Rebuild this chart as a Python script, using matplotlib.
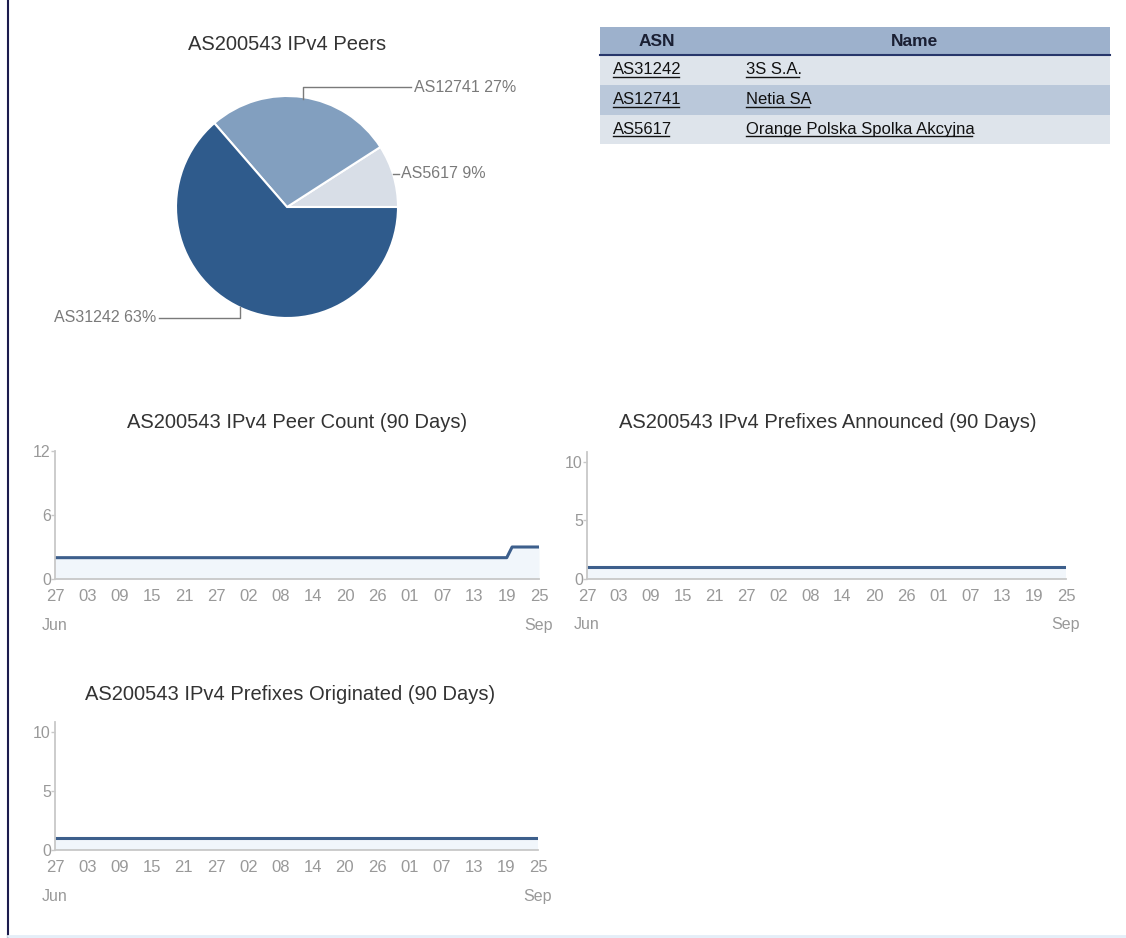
import matplotlib
matplotlib.use("Agg")
from matplotlib import pyplot as plt
import matplotlib.dates as mdates
from datetime import datetime, timedelta

plt.rcParams['font.family'] = ['Liberation Sans', 'DejaVu Sans']

# pie data (peer share)
peer_asns = ["AS5617", "AS12741", "AS31242"]
peer_share = [1, 3, 7]
peer_labels = ["AS5617 9%", "AS12741 27%", "AS31242 63%"]
pie_colors = ["#d8dee7", "#829fbf", "#2f5b8c"]

# table
table_asn = ["AS31242", "AS12741", "AS5617"]
table_name = ["3S S.A.", "Netia SA", "Orange Polska Spolka Akcyjna"]

# 90 day series (change points)
start = datetime(2014, 6, 27)
end = datetime(2014, 9, 25)
peer_dates = [start, datetime(2014, 9, 19), datetime(2014, 9, 20), end]
peer_counts = [2, 2, 3, 3]
announced_dates = [start, end]
announced = [1, 1]
originated_dates = [start, end]
originated = [1, 1]

W, H = 1126, 938
fig = plt.figure(figsize=(W / 100, H / 100), dpi=100)

# background axes in pixel coords
bg = fig.add_axes([0, 0, 1, 1])
bg.set_xlim(0, W)
bg.set_ylim(H, 0)
bg.axis('off')
bg.plot([8, 8], [0, H], color="#1c1c4e", lw=1.5)
bg.plot([8, W], [936, 936], color="#e4eef8", lw=2)

# ---- table ----
tx0, tx1 = 600, 1110
row_edges = [27, 55, 85, 115, 144]
row_cols = ["#9db1cc", "#dee4eb", "#bac8da", "#dee4eb"]
for i in range(4):
    bg.add_patch(plt.Rectangle((tx0, row_edges[i]), tx1 - tx0, row_edges[i + 1] - row_edges[i],
                               facecolor=row_cols[i], edgecolor="none"))
bg.plot([tx0, tx1], [55, 55], color="#27366a", lw=1.5)
bg.text(657, 41, "ASN", ha="center", va="center", fontsize=12.5, fontweight="bold", color="#1a1f33")
bg.text(914, 41, "Name", ha="center", va="center", fontsize=12.5, fontweight="bold", color="#1a1f33")
cell_texts = []
for i in range(len(table_asn)):
    yc = (row_edges[i + 1] + row_edges[i + 2]) / 2
    cell_texts.append(bg.text(613, yc, table_asn[i], ha="left", va="center", fontsize=12, color="#111111"))
    cell_texts.append(bg.text(746, yc, table_name[i], ha="left", va="center", fontsize=12, color="#111111"))

# ---- pie ----
cx, cy, R = 287, 207, 111
half = 135
pax = fig.add_axes([(cx - half) / W, 1 - (cy + half) / H, 2 * half / W, 2 * half / H])
pax.pie(peer_share, colors=pie_colors, startangle=0, counterclock=True, radius=R,
        center=(0, 0), frame=True,
        wedgeprops=dict(edgecolor="white", linewidth=1.5))
pax.set_xlim(-half, half)
pax.set_ylim(-half, half)
pax.axis('off')
lc = "#7a7a7a"
# AS12741
pax.plot([16, 16, 124], [108, 120, 120], color=lc, lw=1, clip_on=False)
pax.text(127, 120, peer_labels[1], ha="left", va="center", fontsize=11.5, color=lc, clip_on=False)
# AS5617
pax.plot([106, 112], [33, 33], color=lc, lw=1, clip_on=False)
pax.text(114, 33, peer_labels[0], ha="left", va="center", fontsize=11.5, color=lc, clip_on=False)
# AS31242
pax.plot([-47, -47, -128], [-100, -111, -111], color=lc, lw=1, clip_on=False)
pax.text(-131, -111, peer_labels[2], ha="right", va="center", fontsize=11.5, color=lc, clip_on=False)
bg.text(cx, 44, "AS200543 IPv4 Peers", ha="center", va="center", fontsize=14.5, color="#333333")

# ---- line charts ----
line_col = "#3d5f8c"
tick_days = [start + timedelta(days=6 * k) for k in range(16)]


def line_chart(px0, px1, ptop, pbot, ymax, yticks, dates, vals, title, title_x, title_y):
    ax = fig.add_axes([px0 / W, 1 - pbot / H, (px1 - px0) / W, (pbot - ptop) / H])
    ax.fill_between(dates, 0, vals, color="#f1f6fb", lw=0)
    ax.plot(dates, vals, color=line_col, lw=2.2, solid_capstyle="butt")
    ax.set_xlim(start, end)
    ax.set_ylim(0, ymax)
    ax.set_yticks(yticks)
    ax.set_xticks(tick_days)
    ax.xaxis.set_major_formatter(mdates.DateFormatter("%d"))
    for s in ["top", "right"]:
        ax.spines[s].set_visible(False)
    for s in ["left", "bottom"]:
        ax.spines[s].set_color("#c8c8c8")
        ax.spines[s].set_linewidth(1.3)
    ax.tick_params(axis="y", length=3, width=1, color="#c8c8c8", labelsize=11.5, labelcolor="#999999", pad=0)
    ax.tick_params(axis="x", length=0, labelsize=12, labelcolor="#999999", pad=7)
    ax.set_facecolor("none")
    ax.text(start, -0.36, "Jun", transform=ax.get_xaxis_transform(), ha="center", va="center",
            fontsize=11.5, color="#999999")
    ax.text(end, -0.36, "Sep", transform=ax.get_xaxis_transform(), ha="center", va="center",
            fontsize=11.5, color="#999999")
    bg.text(title_x, title_y, title, ha="center", va="center", fontsize=14.5, color="#333333")
    return ax


line_chart(55, 539, 451, 579, 12, [0, 6, 12], peer_dates, peer_counts,
           "AS200543 IPv4 Peer Count (90 Days)", 297, 423)
line_chart(587, 1066, 452, 579, 10.85, [0, 5, 10], announced_dates, announced,
           "AS200543 IPv4 Prefixes Announced (90 Days)", 828, 423)
line_chart(55, 538, 722, 850, 10.85, [0, 5, 10], originated_dates, originated,
           "AS200543 IPv4 Prefixes Originated (90 Days)", 290, 694)

# underline table links
fig.canvas.draw()
inv = bg.transData.inverted()
for t in cell_texts:
    bb = t.get_window_extent()
    (x0, y0), (x1, y1) = inv.transform([(bb.x0, bb.y0), (bb.x1, bb.y1)])
    bg.plot([x0, x1 - 3], [y0 - 1, y0 - 1], color="#111111", lw=1)

plt.savefig("out.png", dpi=100)
